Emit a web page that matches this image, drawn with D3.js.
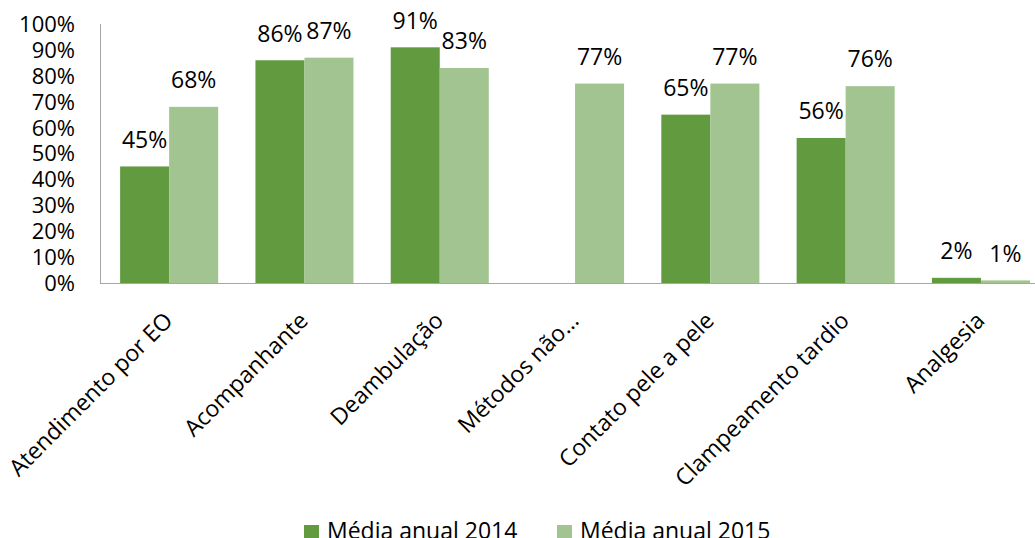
<!DOCTYPE html>
<html><head><meta charset="utf-8">
<script src="https://cdn.jsdelivr.net/npm/d3@7"></script>
<style>body{margin:0;background:#fff}svg{display:block}text{font-family:"Open Sans","Noto Sans",sans-serif;fill:#000}</style>
</head><body><svg id="c" width="1035" height="538"></svg>
<script>
const categories = ["Atendimento por EO","Acompanhante","Deambulação","Métodos não…","Contato pele a pele","Clampeamento tardio","Analgesia"];
const series2014 = [45,86,91,null,65,56,2];
const series2015 = [68,87,83,77,77,76,1];
const seriesNames = ["Média anual 2014","Média anual 2015"];
const yTicks = [0,10,20,30,40,50,60,70,80,90,100];
const colors = ["#629A3F","#A2C490"];

const svg = d3.select("#c");
const pLeft = 100, pTop = 24, pBottom = 283;
const bandStart = 101.5, bandW = 135.3;
const x = d3.scaleBand().domain(categories).range([bandStart, bandStart + bandW*categories.length]).paddingInner(0).paddingOuter(0);
const x1 = d3.scaleBand().domain([0,1]).range([0,x.bandwidth()]).paddingOuter(0.38).paddingInner(0);
const y = d3.scaleLinear().domain([0,100]).range([pBottom,pTop]);

// y axis
svg.append("line").attr("x1",pLeft+0.5).attr("x2",pLeft+0.5).attr("y1",pTop).attr("y2",pBottom).attr("stroke","#A6A6A6");
svg.selectAll(".yt").data(yTicks).enter().append("text")
  .attr("x",75).attr("y",d=>y(d)).attr("dy","0.36em").attr("text-anchor","end")
  .style("font-size","22px").text(d=>d+"%");

const data = [series2014, series2015];
data.forEach((s,si)=>{
  const g = svg.append("g");
  categories.forEach((c,i)=>{
    const v = s[i];
    if (v==null) return;
    g.append("rect").attr("x",x(c)+x1(si)).attr("width",x1.bandwidth())
      .attr("y",y(v)).attr("height",y(0)-y(v)).attr("fill",colors[si]);
    g.append("text").attr("x",x(c)+x1(si)+x1.bandwidth()/2).attr("y",y(v)-27).attr("dy","0.36em")
      .attr("text-anchor","middle").style("font-size","23px").text(v+"%");
  });
});

// baseline
svg.append("line").attr("x1",pLeft).attr("x2",1035).attr("y1",pBottom+0.5).attr("y2",pBottom+0.5).attr("stroke","#A6A6A6");

// x labels
svg.selectAll(".xl").data(categories).enter().append("text")
  .attr("transform",d=>`translate(${x(d)+x.bandwidth()/2+5},${pBottom+39}) rotate(-45)`)
  .attr("text-anchor","end").style("font-size","23px").text(d=>d);

// legend
const lx = [304,557];
seriesNames.forEach((n,i)=>{
  svg.append("rect").attr("x",lx[i]).attr("y",525).attr("width",15).attr("height",15).attr("fill",colors[i]);
  svg.append("text").attr("x",lx[i]+23).attr("y",539).style("font-size","23px").text(n);
});
</script></body></html>
